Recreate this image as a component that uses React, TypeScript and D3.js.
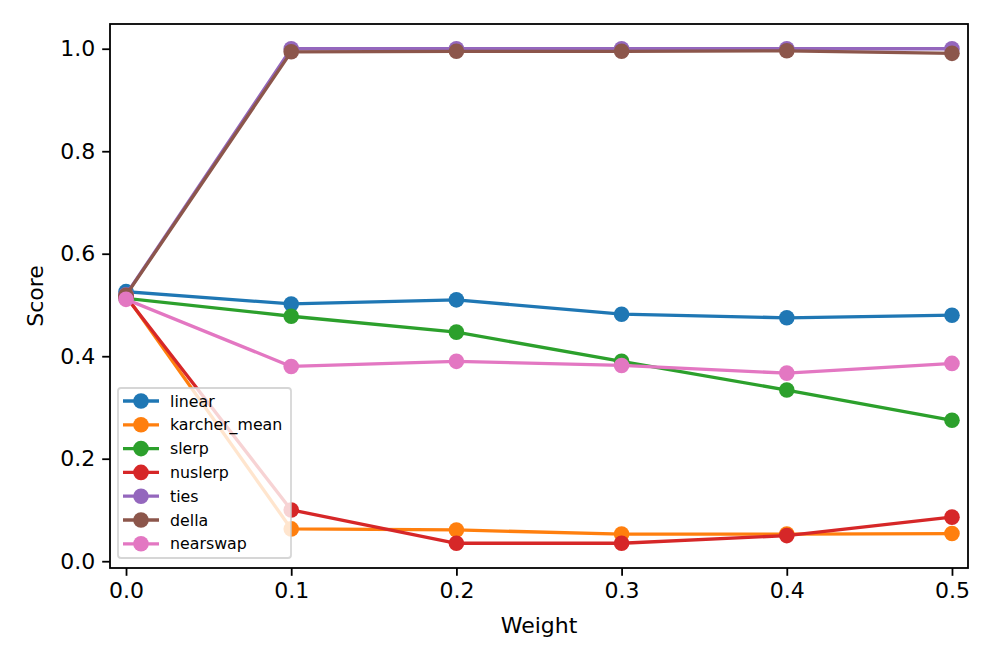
import { useRef, useEffect } from 'react';
import * as d3 from 'd3';

const weights = [0.0, 0.1, 0.2, 0.3, 0.4, 0.5];

const linear = [0.526, 0.502, 0.510, 0.482, 0.475, 0.480];
const karcherMean = [0.518, 0.063, 0.061, 0.053, 0.053, 0.054];
const slerp = [0.513, 0.478, 0.447, 0.390, 0.334, 0.275];
const nuslerp = [0.516, 0.100, 0.035, 0.035, 0.050, 0.086];
const ties = [0.520, 1.0, 1.0, 1.0, 1.0, 1.0];
const della = [0.519, 0.994, 0.995, 0.995, 0.996, 0.991];
const nearswap = [0.511, 0.380, 0.390, 0.382, 0.367, 0.386];

const seriesNames = ['linear', 'karcher_mean', 'slerp', 'nuslerp', 'ties', 'della', 'nearswap'];
const seriesValues = [linear, karcherMean, slerp, nuslerp, ties, della, nearswap];
const colors = ['#1f77b4', '#ff7f0e', '#2ca02c', '#d62728', '#9467bd', '#8c564b', '#e377c2'];

const xTicks = [0.0, 0.1, 0.2, 0.3, 0.4, 0.5];
const yTicks = [0.0, 0.2, 0.4, 0.6, 0.8, 1.0];

const W = 997;
const H = 664;

export default function App() {
    const svgRef = useRef<SVGSVGElement | null>(null);

    useEffect(() => {
        if (!svgRef.current) return;
        const svg = d3.select(svgRef.current);
        svg.selectAll('*').remove();

        const left = 110, right = 968, top = 24, bottom = 568;
        const font = 'DejaVu Sans, sans-serif';

        const x = d3.scaleLinear().domain([-0.0097, 0.5097]).range([left, right]);
        const all = seriesValues.flat();
        const [mn, mx] = d3.extent(all) as [number, number];
        const pad = (mx - mn) * 0.05;
        const y = d3.scaleLinear().domain([mn - pad, mx + pad]).range([bottom, top]);

        svg.append('rect').attr('width', W).attr('height', H).attr('fill', '#fff');

        const plot = svg.append('g');
        plot.append('clipPath').attr('id', 'clip')
            .append('rect').attr('x', left).attr('y', top)
            .attr('width', right - left).attr('height', bottom - top);

        const line = d3.line<number>()
            .x((_d, i) => x(weights[i]))
            .y(d => y(d));

        seriesValues.forEach((vals, si) => {
            const g = plot.append('g');
            g.append('path')
                .datum(vals)
                .attr('fill', 'none')
                .attr('stroke', colors[si])
                .attr('stroke-width', 3.3)
                .attr('stroke-linejoin', 'round')
                .attr('stroke-linecap', 'square')
                .attr('d', line);
            g.selectAll('circle')
                .data(vals)
                .join('circle')
                .attr('cx', (_d, i) => x(weights[i]))
                .attr('cy', d => y(d))
                .attr('r', 7.8)
                .attr('fill', colors[si]);
        });

        // axes frame
        svg.append('rect')
            .attr('x', left).attr('y', top)
            .attr('width', right - left).attr('height', bottom - top)
            .attr('fill', 'none').attr('stroke', '#000').attr('stroke-width', 1.8);

        const xAxis = d3.axisBottom(x)
            .tickValues(xTicks)
            .tickSize(7.8)
            .tickPadding(7)
            .tickFormat(d => d3.format('.1f')(d as number));
        const gx = svg.append('g').attr('transform', `translate(0,${bottom})`).call(xAxis);
        gx.select('.domain').remove();
        gx.selectAll('line').attr('stroke-width', 1.8);
        gx.selectAll('text').attr('font-family', font).attr('font-size', 22).attr('fill', '#000');

        const yAxis = d3.axisLeft(y)
            .tickValues(yTicks)
            .tickSize(7.8)
            .tickPadding(7)
            .tickFormat(d => d3.format('.1f')(d as number));
        const gy = svg.append('g').attr('transform', `translate(${left},0)`).call(yAxis);
        gy.select('.domain').remove();
        gy.selectAll('line').attr('stroke-width', 1.8);
        gy.selectAll('text').attr('font-family', font).attr('font-size', 22).attr('fill', '#000');

        svg.append('text')
            .attr('x', (left + right) / 2).attr('y', 633)
            .attr('text-anchor', 'middle')
            .attr('font-family', font).attr('font-size', 22)
            .text('Weight');

        svg.append('text')
            .attr('transform', `translate(43,${(top + bottom) / 2}) rotate(-90)`)
            .attr('text-anchor', 'middle')
            .attr('font-family', font).attr('font-size', 22)
            .text('Score');

        // legend
        const lg = svg.append('g');
        lg.append('rect')
            .attr('x', 118).attr('y', 388)
            .attr('width', 173).attr('height', 170)
            .attr('rx', 3)
            .attr('fill', 'rgba(255,255,255,0.8)')
            .attr('stroke', '#cccccc').attr('stroke-width', 1.8)
            .attr('stroke-opacity', 0.8);
        seriesNames.forEach((name, i) => {
            const cy = 401 + i * 23.8;
            lg.append('line')
                .attr('x1', 123).attr('x2', 159).attr('y1', cy).attr('y2', cy)
                .attr('stroke', colors[i]).attr('stroke-width', 3.3);
            lg.append('circle').attr('cx', 141).attr('cy', cy).attr('r', 7.8).attr('fill', colors[i]);
            lg.append('text')
                .attr('x', 170).attr('y', cy + 5.5)
                .attr('font-family', font).attr('font-size', 15.8)
                .text(name);
        });
    }, []);

    return (
        <svg ref={svgRef} width={W} height={H}
            style={{ position: 'absolute', left: 0, top: 0 }} />
    );
}
